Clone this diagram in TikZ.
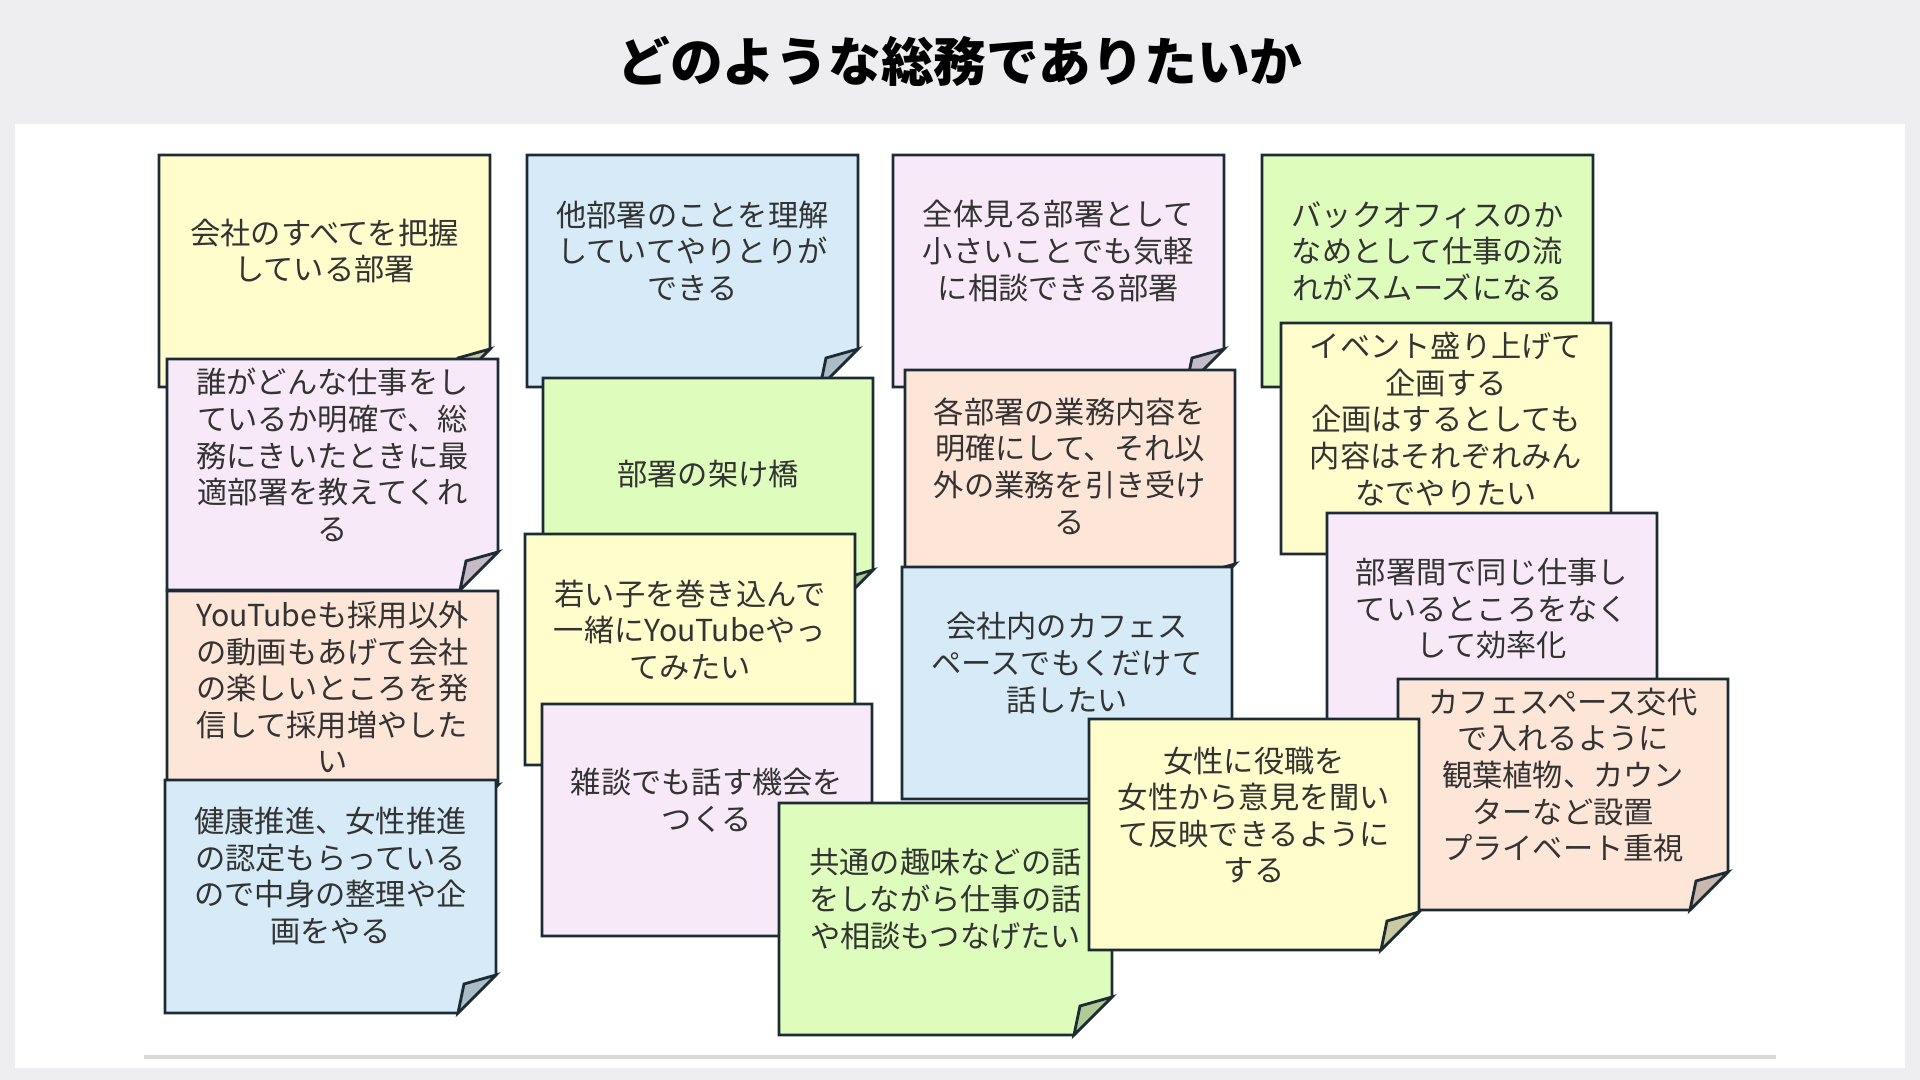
\documentclass[tikz,border=0pt]{standalone}
\usepackage{fontspec}
\newfontfamily\jpfont{Noto Sans CJK JP}

\definecolor{pagegray}{HTML}{EEEEF0}
\definecolor{edge}{HTML}{1D2B34}
\definecolor{ink}{HTML}{333333}
\definecolor{noteyellow}{HTML}{FFFDCC}
\definecolor{noteblue}{HTML}{D6EBF7}
\definecolor{notepink}{HTML}{F8E9F8}
\definecolor{notegreen}{HTML}{DEFCBC}
\definecolor{noteorange}{HTML}{FDE5D8}

\tikzset{
  postit/.style={draw=edge, line width=0.8pt, line join=miter},
  notetext/.style={align=center, text=ink, font=\jpfont\fontsize{8.6}{10.4}\selectfont},
  heading/.style={font=\jpfont\bfseries\fontsize{15}{18}\selectfont, text=black}
}

% name, left, top, right, bottom, colour, text
\newcommand{\postit}[7]{%
  \filldraw[postit, fill=#6] (#2,#3) -- (#4,#3) -- (#4,#5-38) -- (#4-38,#5) -- (#2,#5) -- cycle;
  \filldraw[postit, fill=#6!80!black] (#4,#5-38) -- (#4-32,#5-29) -- (#4-38,#5) -- cycle;
  \node[notetext] (#1) at ({(#2+#4)/2},{#3+96}) {#7};
}

\begin{document}
\begin{tikzpicture}[x=0.01cm, y=-0.01cm]
\useasboundingbox (0,0) rectangle (1920,1080);
\fill[pagegray] (0,0) rectangle (1920,1080);
\fill[white] (15,124) rectangle (1905,1068);
\draw[gray!30, line width=1.2pt] (144,1057) -- (1776,1057);

\node[heading] (title) at (960,61) {どのような総務でありたいか};

% first column
\postit{haaku}{159}{155}{490}{387}{noteyellow}{会社のすべてを把握\\している部署}
\postit{dare}{167}{359}{498}{590}{notepink}{誰がどんな仕事をし\\ているか明確で、総\\務にきいたときに最\\適部署を教えてくれ\\る}
\postit{youtube}{167}{591}{498}{823}{noteorange}{YouTubeも採用以外\\の動画もあげて会社\\の楽しいところを発\\信して採用増やした\\い}
\postit{kenko}{165}{780}{496}{1013}{noteblue}{健康推進、女性推進\\の認定もらっている\\ので中身の整理や企\\画をやる}

% second column
\postit{tabusho}{527}{155}{858}{387}{noteblue}{他部署のことを理解\\していてやりとりが\\できる}
\postit{kakehashi}{543}{378}{873}{608}{notegreen}{部署の架け橋}
\postit{wakai}{525}{534}{855}{765}{noteyellow}{若い子を巻き込んで\\一緒にYouTubeやっ\\てみたい}
\postit{zatsudan}{542}{704}{872}{936}{notepink}{雑談でも話す機会を\\つくる}

% third column
\postit{zentai}{893}{155}{1224}{387}{notepink}{全体見る部署として\\小さいことでも気軽\\に相談できる部署}
\postit{gyomu}{905}{370}{1235}{602}{noteorange}{各部署の業務内容を\\明確にして、それ以\\外の業務を引き受け\\る}
\postit{cafe}{902}{567}{1232}{799}{noteblue}{会社内のカフェス\\ペースでもくだけて\\話したい}

% fourth column
\postit{backoffice}{1262}{155}{1593}{387}{notegreen}{バックオフィスのか\\なめとして仕事の流\\れがスムーズになる}
\postit{event}{1281}{323}{1611}{554}{noteyellow}{イベント盛り上げて\\企画する\\企画はするとしても\\内容はそれぞれみん\\なでやりたい}
\postit{bushokan}{1327}{513}{1657}{745}{notepink}{部署間で同じ仕事し\\ているところをなく\\して効率化}
\postit{cafespace}{1398}{679}{1728}{910}{noteorange}{カフェスペース交代\\で入れるように\\観葉植物、カウン\\ターなど設置\\プライベート重視}

% bottom row, on top
\postit{shumi}{779}{803}{1112}{1035}{notegreen}{共通の趣味などの話\\をしながら仕事の話\\や相談もつなげたい}
\postit{josei}{1089}{719}{1419}{950}{noteyellow}{女性に役職を\\女性から意見を聞い\\て反映できるように\\する}
\end{tikzpicture}
\end{document}
